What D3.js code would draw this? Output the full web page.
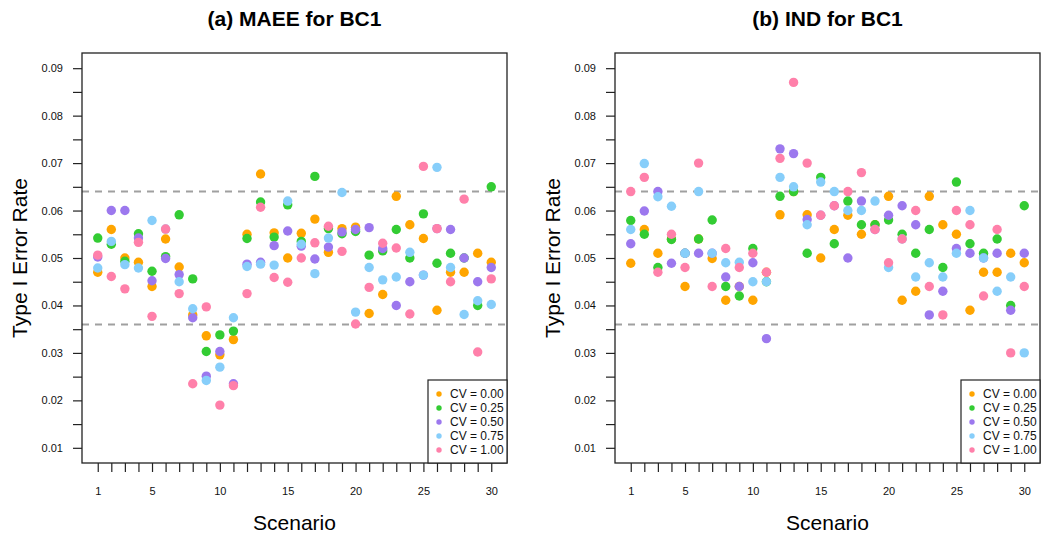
<!DOCTYPE html>
<html>
<head>
<meta charset="utf-8">
<script src="https://cdn.jsdelivr.net/npm/d3@7"></script>
<style>
  html, body { margin: 0; padding: 0; background: #fff; }
  svg { display: block; font-family: "Liberation Sans", Arial, Helvetica, sans-serif; }
</style>
</head>
<body>
<svg id="chart" width="1050" height="539"></svg>
<script>
// ---------------- data ----------------
const scenarios = d3.range(1, 31);
const cvLabels = ["CV = 0.00", "CV = 0.25", "CV = 0.50", "CV = 0.75", "CV = 1.00"];
const cvColors = ["#FFA500", "#33CC33", "#9C78EE", "#87CEFA", "#FF80AA"];
const yTickValues = [0.01, 0.02, 0.03, 0.04, 0.05, 0.06, 0.07, 0.08, 0.09];
const xTickLabels = [1, 5, 10, 15, 20, 25, 30];
const bounds = [0.036, 0.064];
const panelTitles = ["(a) MAEE for BC1", "(b) IND for BC1"];

// Panel (a) MAEE
const maee_cv000 = [0.0470,0.0560,0.0500,0.0491,0.0440,0.0540,0.0481,0.0380,0.0336,0.0296,
                    0.0328,0.0550,0.0677,0.0553,0.0500,0.0552,0.0582,0.0512,0.0562,0.0565,
                    0.0383,0.0423,0.0630,0.0570,0.0541,0.0390,0.0470,0.0470,0.0510,0.0491];
const maee_cv025 = [0.0542,0.0529,0.0493,0.0551,0.0472,0.0503,0.0591,0.0456,0.0303,0.0338,
                    0.0346,0.0541,0.0618,0.0544,0.0612,0.0535,0.0672,0.0562,0.0551,0.0556,
                    0.0506,0.0515,0.0560,0.0500,0.0593,0.0489,0.0510,0.0500,0.0400,0.0650];
const maee_cv050 = [0.0502,0.0600,0.0600,0.0542,0.0452,0.0499,0.0465,0.0374,0.0251,0.0303,
                    0.0235,0.0487,0.0491,0.0526,0.0557,0.0525,0.0498,0.0523,0.0555,0.0560,
                    0.0564,0.0520,0.0400,0.0450,0.0464,0.0562,0.0560,0.0500,0.0450,0.0480];
const maee_cv075 = [0.0479,0.0535,0.0486,0.0479,0.0579,0.0561,0.0450,0.0393,0.0242,0.0270,
                    0.0374,0.0482,0.0487,0.0485,0.0620,0.0529,0.0467,0.0542,0.0638,0.0386,
                    0.0480,0.0454,0.0460,0.0512,0.0464,0.0691,0.0480,0.0381,0.0410,0.0402];
const maee_cv100 = [0.0506,0.0461,0.0435,0.0533,0.0377,0.0561,0.0425,0.0235,0.0397,0.0190,
                    0.0231,0.0425,0.0607,0.0459,0.0449,0.0500,0.0532,0.0567,0.0514,0.0361,
                    0.0438,0.0531,0.0521,0.0382,0.0693,0.0562,0.0450,0.0624,0.0302,0.0456];

// Panel (b) IND
const ind_cv000 = [0.0489,0.0560,0.0510,0.0540,0.0440,0.0540,0.0499,0.0411,0.0440,0.0411,
                   0.0470,0.0591,0.0640,0.0591,0.0500,0.0560,0.0590,0.0550,0.0570,0.0630,
                   0.0411,0.0430,0.0630,0.0570,0.0550,0.0390,0.0470,0.0470,0.0510,0.0490];
const ind_cv025 = [0.0579,0.0550,0.0480,0.0539,0.0510,0.0540,0.0580,0.0440,0.0420,0.0520,
                   0.0450,0.0630,0.0640,0.0510,0.0670,0.0530,0.0620,0.0570,0.0570,0.0580,
                   0.0550,0.0510,0.0560,0.0480,0.0660,0.0530,0.0510,0.0540,0.0400,0.0610];
const ind_cv050 = [0.0530,0.0599,0.0640,0.0489,0.0510,0.0510,0.0510,0.0460,0.0440,0.0490,
                   0.0330,0.0730,0.0720,0.0581,0.0590,0.0610,0.0500,0.0620,0.0560,0.0590,
                   0.0610,0.0570,0.0380,0.0430,0.0520,0.0510,0.0500,0.0510,0.0390,0.0510];
const ind_cv075 = [0.0560,0.0699,0.0629,0.0609,0.0510,0.0640,0.0510,0.0490,0.0491,0.0450,
                   0.0450,0.0670,0.0650,0.0570,0.0660,0.0640,0.0600,0.0600,0.0620,0.0480,
                   0.0540,0.0460,0.0490,0.0460,0.0510,0.0600,0.0500,0.0430,0.0460,0.0300];
const ind_cv100 = [0.0640,0.0670,0.0470,0.0550,0.0480,0.0700,0.0440,0.0520,0.0480,0.0510,
                   0.0470,0.0710,0.0870,0.0700,0.0590,0.0610,0.0640,0.0680,0.0560,0.0490,
                   0.0540,0.0600,0.0440,0.0380,0.0600,0.0570,0.0420,0.0560,0.0300,0.0440];

const panels = [
  { title: panelTitles[0], series: [maee_cv000, maee_cv025, maee_cv050, maee_cv075, maee_cv100] },
  { title: panelTitles[1], series: [ind_cv000, ind_cv025, ind_cv050, ind_cv075, ind_cv100] }
];

// ---------------- layout ----------------
const svg = d3.select("#chart");
const panelOffsets = [0, 533];
const plotLeft = 82, plotRight = 507, plotTop = 53, plotBottom = 463;

const x = d3.scaleLinear().domain([1 - 29 * 0.04, 30 + 29 * 0.04]).range([plotLeft, plotRight]);
const y = d3.scaleLinear().domain([0.01 - 0.08 * 0.04, 0.09 + 0.08 * 0.04]).range([plotBottom, plotTop]);

panels.forEach((p, pi) => {
  const g = svg.append("g").attr("transform", `translate(${panelOffsets[pi]},0)`);

  // title
  g.append("text")
    .attr("x", (plotLeft + plotRight) / 2).attr("y", 26)
    .attr("text-anchor", "middle")
    .style("font-size", "21px").style("font-weight", "bold")
    .text(p.title);

  // y axis
  const yMinor = d3.range(0.01, 0.0901, 0.005).map(v => +v.toFixed(3));
  const yAxis = d3.axisLeft(y).tickValues(yMinor).tickSize(9).tickPadding(10)
    .tickFormat(v => yTickValues.some(t => Math.abs(t - v) < 1e-9) ? d3.format(".2f")(v) : "");
  const ya = g.append("g").attr("transform", `translate(${plotLeft},0)`).call(yAxis);
  ya.select(".domain").remove();
  ya.selectAll(".tick line").attr("stroke", "#222").attr("stroke-width", 1.2);
  ya.selectAll(".tick text").style("font-size", "11px").attr("fill", "#111");

  // x axis
  const xAxis = d3.axisBottom(x).tickValues(scenarios).tickSize(9).tickPadding(15)
    .tickFormat(v => xTickLabels.includes(v) ? String(v) : "");
  const xa = g.append("g").attr("transform", `translate(0,${plotBottom})`).call(xAxis);
  xa.select(".domain").remove();
  xa.selectAll(".tick line").attr("stroke", "#222").attr("stroke-width", 1.2);
  xa.selectAll(".tick text").style("font-size", "11px").attr("fill", "#111");

  // axis titles
  g.append("text")
    .attr("transform", `translate(27,${(plotTop + plotBottom) / 2}) rotate(-90)`)
    .attr("text-anchor", "middle")
    .style("font-size", "21px")
    .text("Type I Error Rate");
  g.append("text")
    .attr("x", (plotLeft + plotRight) / 2).attr("y", 530)
    .attr("text-anchor", "middle")
    .style("font-size", "21px")
    .text("Scenario");

  // reference lines
  g.selectAll("line.ref").data(bounds).enter().append("line")
    .attr("class", "ref")
    .attr("x1", plotLeft).attr("x2", plotRight)
    .attr("y1", d => y(d)).attr("y2", d => y(d))
    .attr("stroke", "#a0a0a0").attr("stroke-width", 2)
    .attr("stroke-dasharray", "7,6");

  // points
  p.series.forEach((vals, si) => {
    g.append("g").selectAll("circle").data(vals).enter().append("circle")
      .attr("cx", (d, i) => x(scenarios[i]))
      .attr("cy", d => y(d))
      .attr("r", 4.7)
      .attr("fill", cvColors[si]);
  });

  // box
  g.append("rect")
    .attr("x", plotLeft).attr("y", plotTop)
    .attr("width", plotRight - plotLeft).attr("height", plotBottom - plotTop)
    .attr("fill", "none").attr("stroke", "#222").attr("stroke-width", 1.3);

  // legend
  const lg = g.append("g");
  lg.append("rect")
    .attr("x", 428).attr("y", 380).attr("width", plotRight - 428).attr("height", plotBottom - 380)
    .attr("fill", "#fff").attr("stroke", "#222").attr("stroke-width", 1.2);
  cvLabels.forEach((lab, li) => {
    const yy = 394 + li * 14;
    lg.append("circle").attr("cx", 439).attr("cy", yy).attr("r", 2.7).attr("fill", cvColors[li]);
    lg.append("text").attr("x", 450).attr("y", yy).attr("dy", "0.35em")
      .style("font-size", "12px").attr("fill", "#111").text(lab);
  });
});
</script>
</body>
</html>
